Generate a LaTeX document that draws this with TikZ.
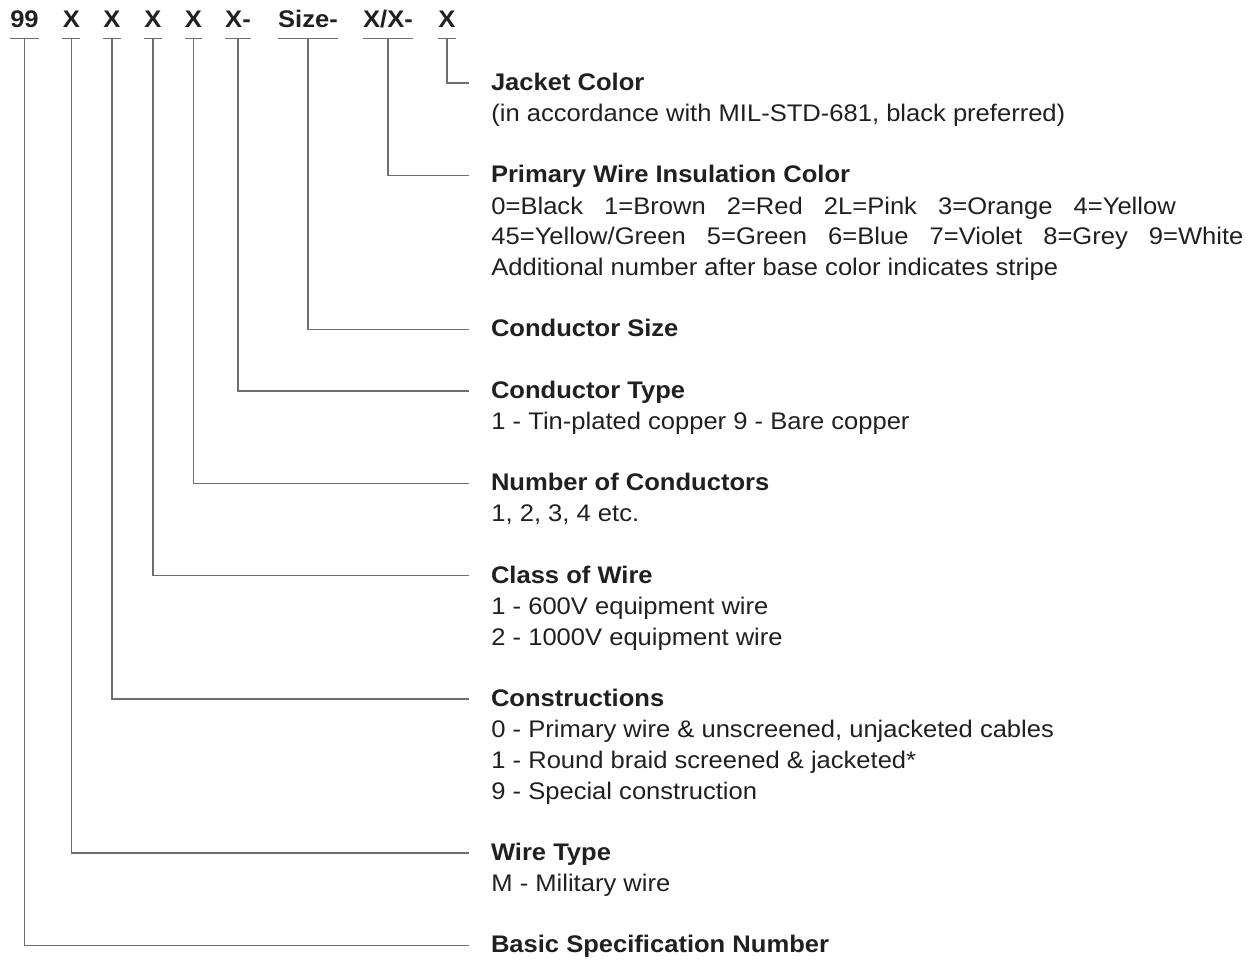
\documentclass[tikz,border=0pt]{standalone}
\usepackage{fontspec}
\setmainfont{Liberation Sans}[FakeStretch=1.065]
\definecolor{ink}{RGB}{35,31,32}
\definecolor{rulegray}{RGB}{110,110,110}
\newcommand\sz{\fontsize{12}{15.4}\selectfont}
\newcommand\colgap{\hspace{0.88em}}
\tikzset{
  code/.style={font=\sz\bfseries, text=ink, inner sep=0pt, text depth=5.35pt, anchor=base},
  ttl/.style={font=\sz\bfseries, text=ink, inner sep=0pt, outer xsep=11pt, outer ysep=0pt,
    text height=7.4pt, text depth=0pt, anchor=west},
  desc/.style={font=\sz, text=ink, align=left, inner sep=0pt, anchor=north west},
  lead/.style={draw=rulegray, line width=0.6pt}
}
\begin{document}
\begin{tikzpicture}[x=0.5pt, y=-0.5pt]
  \def\s{30.8}
  \def\t{83}
  \useasboundingbox (0,0) rectangle (1255,960);
  % part number
  \node[code] (c99) at (24.5,27) {99};
  \node[code] (cwt) at (71.3,27) {X};
  \node[code] (ccon) at (112,27) {X};
  \node[code] (ccls) at (153,27) {X};
  \node[code] (cnum) at (193.5,27) {X};
  \node[code] (ctyp) at (238,27) {X-};
  \node[code] (csz) at (308,27) {Size-};
  \node[code] (ccol) at (388,27) {X/X-};
  \node[code] (cjk) at (447,27) {X};
  \foreach \c in {c99,cwt,ccon,ccls,cnum,ctyp,csz,ccol,cjk}
    \draw[lead] (\c.south west) -- (\c.south east);
  % titles
  \node[ttl] (jacket) at (469,\t) {Jacket Color};
  \node[ttl] (prim) at (469,{\t+3*\s}) {Primary Wire Insulation Color};
  \node[ttl] (csize) at (469,{\t+8*\s}) {Conductor Size};
  \node[ttl] (ctype) at (469,{\t+10*\s}) {Conductor Type};
  \node[ttl] (ncond) at (469,{\t+13*\s}) {Number of Conductors};
  \node[ttl] (wclass) at (469,{\t+16*\s}) {Class of Wire};
  \node[ttl] (constr) at (469,{\t+20*\s}) {Constructions};
  \node[ttl] (wtype) at (469,{\t+25*\s}) {Wire Type};
  \node[ttl] (basic) at (469,{\t+28*\s}) {Basic Specification Number};
  % descriptions
  \node[desc] (jacketd) at ([xshift=11pt,yshift=-6.8pt]jacket.south west)
    {(in accordance with MIL-STD-681, black preferred)};
  \node[desc] (primd) at ([xshift=11pt,yshift=-6.8pt]prim.south west)
    {0=Black\colgap 1=Brown\colgap 2=Red\colgap 2L=Pink\colgap 3=Orange\colgap 4=Yellow\\
     45=Yellow/Green\colgap 5=Green\colgap 6=Blue\colgap 7=Violet\colgap 8=Grey\colgap 9=White\\
     Additional number after base color indicates stripe};
  \node[desc] (ctyped) at ([xshift=11pt,yshift=-6.8pt]ctype.south west)
    {1 - Tin-plated copper 9 - Bare copper};
  \node[desc] (ncondd) at ([xshift=11pt,yshift=-6.8pt]ncond.south west)
    {1, 2, 3, 4 etc.};
  \node[desc] (wclassd) at ([xshift=11pt,yshift=-6.8pt]wclass.south west)
    {1 - 600V equipment wire\\2 - 1000V equipment wire};
  \node[desc] (constrd) at ([xshift=11pt,yshift=-6.8pt]constr.south west)
    {0 - Primary wire \& unscreened, unjacketed cables\\
     1 - Round braid screened \& jacketed*\\
     9 - Special construction};
  \node[desc] (wtyped) at ([xshift=11pt,yshift=-6.8pt]wtype.south west)
    {M - Military wire};
  % leaders
  \draw[lead] (cjk.south) |- (jacket.west);
  \draw[lead] (ccol.south) |- (prim.west);
  \draw[lead] (csz.south) |- (csize.west);
  \draw[lead] (ctyp.south) |- (ctype.west);
  \draw[lead] (cnum.south) |- (ncond.west);
  \draw[lead] (ccls.south) |- (wclass.west);
  \draw[lead] (ccon.south) |- (constr.west);
  \draw[lead] (cwt.south) |- (wtype.west);
  \draw[lead] (c99.south) |- (basic.west);
\end{tikzpicture}
\end{document}
